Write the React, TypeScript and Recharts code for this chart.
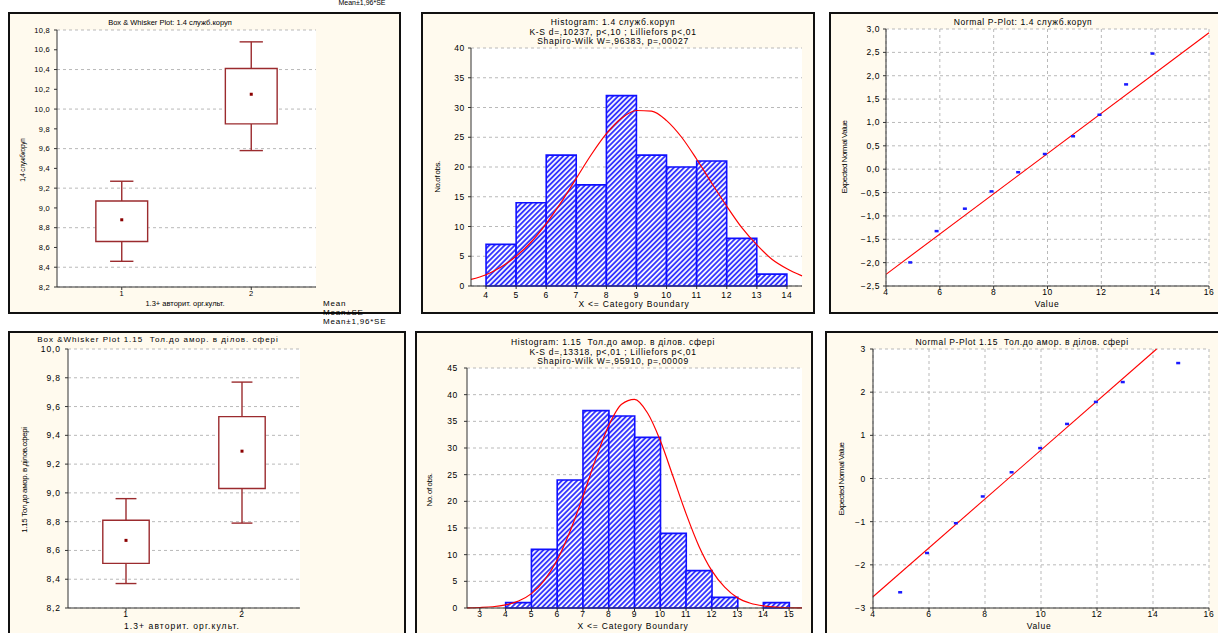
import React from "react";
import {
  ComposedChart,
  Bar,
  Line,
  Scatter,
  XAxis,
  YAxis,
  CartesianGrid,
  ReferenceArea,
  ReferenceLine,
} from "recharts";

// ---------- Box & Whisker 1.4 служб.коруп
const boxGroups = [1, 2];
const box1Mean = [8.88, 10.15];
const box1SeLow = [8.66, 9.85];
const box1SeHigh = [9.07, 10.41];
const box1CiLow = [8.46, 9.58];
const box1CiHigh = [9.27, 10.68];
const box1YTicks = [8.2, 8.4, 8.6, 8.8, 9.0, 9.2, 9.4, 9.6, 9.8, 10.0, 10.2, 10.4, 10.6, 10.8];

// ---------- Box & Whisker 1.15 Тол.до амор.
const box2Mean = [8.67, 9.29];
const box2SeLow = [8.51, 9.03];
const box2SeHigh = [8.81, 9.53];
const box2CiLow = [8.37, 8.79];
const box2CiHigh = [8.96, 9.77];
const box2YTicks = [8.2, 8.4, 8.6, 8.8, 9.0, 9.2, 9.4, 9.6, 9.8, 10.0];

// ---------- Histogram 1.4
const hist1Lower = [4, 5, 6, 7, 8, 9, 10, 11, 12, 13];
const hist1Counts = [7, 14, 22, 17, 32, 22, 20, 21, 8, 2];
const hist1CurveX = [3.5, 4, 4.5, 5, 5.5, 6, 6.5, 7, 7.5, 8, 8.5, 9, 9.5, 10, 10.5, 11, 11.5, 12, 12.5, 13, 13.5, 14, 14.5];
const hist1CurveY = [1.1, 1.9, 3.2, 5.0, 7.4, 10.5, 14.1, 18.1, 22.1, 25.6, 28.2, 29.5, 29.4, 27.8, 25.0, 21.3, 17.3, 13.4, 9.8, 6.9, 4.5, 2.9, 1.7];
const hist1XTicks = [4, 5, 6, 7, 8, 9, 10, 11, 12, 13, 14];
const hist1YTicks = [0, 5, 10, 15, 20, 25, 30, 35, 40];

// ---------- Histogram 1.15
const hist2Lower = [3, 4, 5, 6, 7, 8, 9, 10, 11, 12, 13, 14];
const hist2Counts = [0, 1, 11, 24, 37, 36, 32, 14, 7, 2, 0, 1];
const hist2CurveX = [2.5, 3, 3.5, 4, 4.5, 5, 5.5, 6, 6.5, 7, 7.5, 8, 8.5, 9, 9.5, 10, 10.5, 11, 11.5, 12, 12.5, 13, 13.5, 14, 14.5, 15, 15.5];
const hist2CurveY = [0.03, 0.09, 0.23, 0.6, 1.3, 2.7, 5.2, 9.0, 14.4, 20.9, 28.0, 34.2, 38.2, 39.1, 36.6, 31.4, 24.6, 17.7, 11.6, 7.0, 3.9, 1.9, 0.9, 0.4, 0.15, 0.05, 0.02];
const hist2XTicks = [3, 4, 5, 6, 7, 8, 9, 10, 11, 12, 13, 14, 15];
const hist2YTicks = [0, 5, 10, 15, 20, 25, 30, 35, 40, 45];

// ---------- Normal P-Plots
const pp1X = [4.9, 5.88, 6.93, 7.92, 8.91, 9.9, 10.95, 11.93, 12.92, 13.9];
const pp1Y = [-1.99, -1.32, -0.84, -0.47, -0.06, 0.33, 0.71, 1.17, 1.82, 2.48];
const pp1FitX = [4, 16];
const pp1FitY = [-2.25, 2.92];
const pp1YTicks = [-2.5, -2.0, -1.5, -1.0, -0.5, 0.0, 0.5, 1.0, 1.5, 2.0, 2.5, 3.0];

const pp2X = [4.97, 5.93, 6.96, 7.92, 8.95, 9.97, 10.93, 11.96, 12.92, 14.9];
const pp2Y = [-2.63, -1.72, -1.03, -0.41, 0.15, 0.71, 1.27, 1.78, 2.24, 2.68];
const pp2FitX = [4, 14.13];
const pp2FitY = [-2.74, 3.0];
const pp2YTicks = [-3, -2, -1, 0, 1, 2, 3];

const ppXTicks = [4, 6, 8, 10, 12, 14, 16];

// ---------- layout
const W = 1218;
const H = 633;
const YW = 30;
const XH = 14;
const FONT = "'Liberation Sans', Arial, sans-serif";
const MAROON = "#9b2b2e";
const GRID = "#b9b9b9";
const BOX_HALF = 0.2;
const CAP_HALF = 0.09;

type Frame = { l: number; t: number; w: number; h: number };
type Plot = { x1: number; y1: number; x2: number; y2: number };

const chartBox = (f: Frame): Frame => ({ l: f.l, t: f.t, w: Math.min(f.w, W - f.l), h: Math.min(f.h, H - f.t) });
const marginFor = (f: Frame, p: Plot) => {
  const b = chartBox(f);
  return { top: p.y1 - b.t, left: p.x1 - b.l - YW, right: b.l + b.w - p.x2, bottom: b.t + b.h - p.y2 - XH };
};

const comma = (d: number) => (v: number) => (v < 0 ? "−" : "") + Math.abs(v).toFixed(d).replace(".", ",");
const tick = (size: number, ls: number) => ({ fontSize: size, fill: "#000", fontFamily: FONT, letterSpacing: ls });

const Txt = ({ x, y, size, ls = 0, rot = false, start = false, children }: any) => (
  <div
    style={{
      position: "absolute",
      left: x,
      top: y,
      transform: `translate(${start ? "0" : "-50%"},-50%)${rot ? " rotate(-90deg)" : ""}`,
      fontSize: size,
      letterSpacing: ls,
      whiteSpace: "pre",
      fontFamily: FONT,
      color: "#000",
      lineHeight: 1,
    }}
  >
    {children}
  </div>
);

const Panel = ({ f }: { f: Frame }) => (
  <div
    style={{
      position: "absolute",
      left: f.l,
      top: f.t,
      width: f.w,
      height: f.h,
      boxSizing: "border-box",
      border: "2px solid #111",
      background: "#fffaee",
    }}
  />
);

const Border = () => <ReferenceArea fill="none" fillOpacity={0} stroke="#333" strokeWidth={1} ifOverflow="visible" />;

const meanMark = (p: any) => <rect x={p.cx - 1.5} y={p.cy - 1.5} width={3} height={3} fill="#8b0000" />;
const blueMark = (p: any) => <rect x={p.cx - 2} y={p.cy - 1} width={4} height={2.5} fill="#1a1aff" />;

function BoxChart({ f, p, mean, seLow, seHigh, ciLow, ciHigh, yTicks, ts, tls, tm }: any) {
  const b = chartBox(f);
  const rows = boxGroups.map((g, i) => ({ g, mean: mean[i] }));
  return (
    <div style={{ position: "absolute", left: b.l, top: b.t }}>
      <ComposedChart width={b.w} height={b.h} margin={marginFor(f, p)} data={rows}>
        <CartesianGrid vertical={false} stroke={GRID} strokeDasharray="3 3" fill="#fff" />
        <XAxis type="number" dataKey="g" domain={[0.5, 2.5]} ticks={boxGroups} height={XH} tick={tick(ts, tls)} tickSize={3} tickMargin={tm[0]} axisLine={{ stroke: "#333" }} tickLine={{ stroke: "#333" }} />
        <YAxis type="number" dataKey="mean" domain={[yTicks[0], yTicks[yTicks.length - 1]]} ticks={yTicks} width={YW} tick={tick(ts, tls)} tickSize={3} tickMargin={tm[1]} tickFormatter={comma(1)} axisLine={{ stroke: "#333" }} tickLine={{ stroke: "#333" }} />
        {boxGroups.map((g, i) => (
          <ReferenceArea key={`b${g}`} x1={g - BOX_HALF} x2={g + BOX_HALF} y1={seLow[i]} y2={seHigh[i]} fill="#fff" fillOpacity={1} stroke={MAROON} strokeWidth={1.4} />
        ))}
        {boxGroups.map((g, i) => (
          <ReferenceLine key={`wh${g}`} segment={[{ x: g, y: seHigh[i] }, { x: g, y: ciHigh[i] }]} stroke={MAROON} strokeWidth={1.4} />
        ))}
        {boxGroups.map((g, i) => (
          <ReferenceLine key={`wl${g}`} segment={[{ x: g, y: ciLow[i] }, { x: g, y: seLow[i] }]} stroke={MAROON} strokeWidth={1.4} />
        ))}
        {boxGroups.map((g, i) => (
          <ReferenceLine key={`ch${g}`} segment={[{ x: g - CAP_HALF, y: ciHigh[i] }, { x: g + CAP_HALF, y: ciHigh[i] }]} stroke={MAROON} strokeWidth={1.4} />
        ))}
        {boxGroups.map((g, i) => (
          <ReferenceLine key={`cl${g}`} segment={[{ x: g - CAP_HALF, y: ciLow[i] }, { x: g + CAP_HALF, y: ciLow[i] }]} stroke={MAROON} strokeWidth={1.4} />
        ))}
        <Scatter dataKey="mean" isAnimationActive={false} shape={meanMark} />
        <Border />
      </ComposedChart>
    </div>
  );
}

function HistChart({ f, p, id, lower, counts, curveX, curveY, xTicks, yTicks, ts, tls, tm }: any) {
  const b = chartBox(f);
  const rows = lower.map((lo: number, i: number) => ({ mid: lo + 0.5, count: counts[i] }));
  const curve = curveX.map((x: number, i: number) => ({ x, y: curveY[i] }));
  const dom = [lower[0] - 0.5, lower[lower.length - 1] + 1.5];
  return (
    <div style={{ position: "absolute", left: b.l, top: b.t }}>
      <ComposedChart width={b.w} height={b.h} margin={marginFor(f, p)} data={rows} barCategoryGap={0} barGap={0}>
        <defs>
          <pattern id={id} patternUnits="userSpaceOnUse" width={3.6} height={3.6} patternTransform="rotate(45)">
            <rect width={3.6} height={3.6} fill="#f4f4ff" />
            <line x1={0.9} y1={0} x2={0.9} y2={3.6} stroke="#2a2aff" strokeWidth={1.7} />
          </pattern>
        </defs>
        <CartesianGrid vertical={false} stroke={GRID} strokeDasharray="3 3" fill="#fff" />
        <XAxis type="number" dataKey="mid" domain={dom} ticks={xTicks} height={XH} tick={tick(ts, tls)} tickSize={3} tickMargin={tm[0]} axisLine={{ stroke: "#333" }} tickLine={{ stroke: "#333" }} />
        <XAxis xAxisId="curve" type="number" dataKey="x" domain={dom} hide />
        <YAxis type="number" domain={[0, yTicks[yTicks.length - 1]]} ticks={yTicks} width={YW} tick={tick(ts, tls)} tickSize={3} tickMargin={tm[1]} axisLine={{ stroke: "#333" }} tickLine={{ stroke: "#333" }} />
        <Bar dataKey="count" fill={`url(#${id})`} stroke="#1010ff" strokeWidth={1.6} isAnimationActive={false} />
        <Line xAxisId="curve" data={curve} dataKey="y" type="monotone" stroke="#ff0000" strokeWidth={1.2} dot={false} isAnimationActive={false} />
        <Border />
      </ComposedChart>
    </div>
  );
}

function PPlotChart({ f, p, xs, ys, fitX, fitY, yTicks, dec, ts, tls, tm }: any) {
  const b = chartBox(f);
  const pts = xs.map((x: number, i: number) => ({ x, y: ys[i] }));
  const fit = fitX.map((x: number, i: number) => ({ x, y: fitY[i] }));
  return (
    <div style={{ position: "absolute", left: b.l, top: b.t }}>
      <ComposedChart width={b.w} height={b.h} margin={marginFor(f, p)}>
        <CartesianGrid stroke={GRID} strokeDasharray="3 3" fill="#fff" />
        <XAxis type="number" dataKey="x" domain={[4, 16]} ticks={ppXTicks} height={XH} tick={tick(ts, tls)} tickSize={3} tickMargin={tm[0]} axisLine={{ stroke: "#333" }} tickLine={{ stroke: "#333" }} />
        <YAxis type="number" dataKey="y" domain={[yTicks[0], yTicks[yTicks.length - 1]]} ticks={yTicks} width={YW} tick={tick(ts, tls)} tickSize={3} tickMargin={tm[1]} tickFormatter={comma(dec)} axisLine={{ stroke: "#333" }} tickLine={{ stroke: "#333" }} />
        <Line data={fit} dataKey="y" type="linear" stroke="#ff0000" strokeWidth={1.1} dot={false} isAnimationActive={false} />
        <Scatter data={pts} dataKey="y" isAnimationActive={false} shape={blueMark} />
        <Border />
      </ComposedChart>
    </div>
  );
}

const F1: Frame = { l: 8, t: 12, w: 393, h: 302 };
const F2: Frame = { l: 421, t: 12, w: 394, h: 302 };
const F3: Frame = { l: 829, t: 12, w: 400, h: 302 };
const F4: Frame = { l: 8, t: 331, w: 398, h: 320 };
const F5: Frame = { l: 415, t: 331, w: 398, h: 320 };
const F6: Frame = { l: 825, t: 331, w: 400, h: 320 };

export default function App() {
  return (
    <div style={{ position: "absolute", left: 0, top: 0, width: W, height: H, overflow: "hidden", background: "#fff", fontFamily: FONT }}>
      {[F1, F2, F3, F4, F5, F6].map((f, i) => (
        <Panel key={i} f={f} />
      ))}

      <BoxChart f={F1} p={{ x1: 57, y1: 30, x2: 316, y2: 287 }} mean={box1Mean} seLow={box1SeLow} seHigh={box1SeHigh} ciLow={box1CiLow} ciHigh={box1CiHigh} yTicks={box1YTicks} ts={7.5} tls={0.3} tm={[1, 4]} />
      <HistChart f={F2} p={{ x1: 471, y1: 48, x2: 802, y2: 286 }} id="hatchA" lower={hist1Lower} counts={hist1Counts} curveX={hist1CurveX} curveY={hist1CurveY} xTicks={hist1XTicks} yTicks={hist1YTicks} ts={8.5} tls={0.7} tm={[3, 3]} />
      <PPlotChart f={F3} p={{ x1: 886, y1: 29, x2: 1209, y2: 286 }} xs={pp1X} ys={pp1Y} fitX={pp1FitX} fitY={pp1FitY} yTicks={pp1YTicks} dec={1} ts={8.5} tls={0.6} tm={[0, 3]} />
      <BoxChart f={F4} p={{ x1: 68, y1: 349, x2: 300, y2: 608 }} mean={box2Mean} seLow={box2SeLow} seHigh={box2SeHigh} ciLow={box2CiLow} ciHigh={box2CiHigh} yTicks={box2YTicks} ts={8.5} tls={0.9} tm={[0, 4]} />
      <HistChart f={F5} p={{ x1: 467, y1: 368, x2: 802, y2: 608 }} id="hatchB" lower={hist2Lower} counts={hist2Counts} curveX={hist2CurveX} curveY={hist2CurveY} xTicks={hist2XTicks} yTicks={hist2YTicks} ts={8.5} tls={0.7} tm={[0, 6]} />
      <PPlotChart f={F6} p={{ x1: 873, y1: 349, x2: 1209, y2: 608 }} xs={pp2X} ys={pp2Y} fitX={pp2FitX} fitY={pp2FitY} yTicks={pp2YTicks} dec={0} ts={8.5} tls={0.7} tm={[0, 4]} />

      {/* top-left box plot */}
      <Txt x={170} y={23} size={7.5}>Box &amp; Whisker Plot: 1.4 служб.коруп</Txt>
      <Txt x={23} y={160} size={6.5} ls={-0.2} rot>1,4 службкоруп</Txt>
      <Txt x={185} y={304} size={7.5}>1.3+ авторит. орг.культ.</Txt>

      {/* top histogram */}
      <Txt x={613} y={22} size={8.5} ls={0.7}>Histogram: 1.4 служб.коруп</Txt>
      <Txt x={613} y={31.5} size={8.5} ls={0.7}>K-S d=,10237, p&lt;,10 ; Lilliefors p&lt;,01</Txt>
      <Txt x={613} y={41} size={8.5} ls={0.7}>Shapiro-Wilk W=,96383, p=,00027</Txt>
      <Txt x={438} y={177} size={8} ls={-0.5} rot>No.of obs.</Txt>
      <Txt x={634} y={304} size={8.5} ls={0.8}>X &lt;= Category Boundary</Txt>

      {/* top p-plot */}
      <Txt x={1023} y={22} size={8.5} ls={0.6}>Normal P-Plot: 1.4 служб.коруп</Txt>
      <Txt x={845} y={157} size={8} ls={-0.5} rot>Expected Normal Value</Txt>
      <Txt x={1047} y={304} size={8.5} ls={0.7}>Value</Txt>

      {/* bottom-left box plot */}
      <Txt x={158} y={340} size={8} ls={1.0}>Box &amp;Whisker Plot 1.15  Тол.до амор. в ділов. сфері</Txt>
      <Txt x={25} y={480} size={8} ls={-0.4} rot>1.15 Тол.до амор. в ділов.сфері</Txt>
      <Txt x={182} y={626} size={8.5} ls={1.1}>1.3+ авторит. орг.культ.</Txt>

      {/* bottom histogram */}
      <Txt x={613} y={342} size={8.5} ls={0.7}>Histogram: 1.15  Тол.до амор. в ділов. сфері</Txt>
      <Txt x={613} y={351.5} size={8.5} ls={0.7}>K-S d=,13318, p&lt;,01 ; Lilliefors p&lt;,01</Txt>
      <Txt x={613} y={361} size={8.5} ls={0.7}>Shapiro-Wilk W=,95910, p=,00009</Txt>
      <Txt x={430} y={490} size={8} ls={-0.5} rot>No. of obs.</Txt>
      <Txt x={633} y={626} size={8.5} ls={0.8}>X &lt;= Category Boundary</Txt>

      {/* bottom p-plot */}
      <Txt x={1022} y={342} size={8.5} ls={0.6}>Normal P-Plot 1.15  Тол.до амор. в ділов. сфері</Txt>
      <Txt x={842} y={479} size={8} ls={-0.5} rot>Expected Normal Value</Txt>
      <Txt x={1039} y={626} size={8.5} ls={0.7}>Value</Txt>

      {/* legend leftovers */}
      <Txt x={362} y={2} size={7}>Mean±1,96*SE</Txt>
      <Txt x={323} y={304} size={8} ls={0.8} start>Mean</Txt>
      <Txt x={323} y={313} size={8} ls={0.8} start>Mean±SE</Txt>
      <Txt x={323} y={322} size={8} ls={0.8} start>Mean±1,96*SE</Txt>
    </div>
  );
}
